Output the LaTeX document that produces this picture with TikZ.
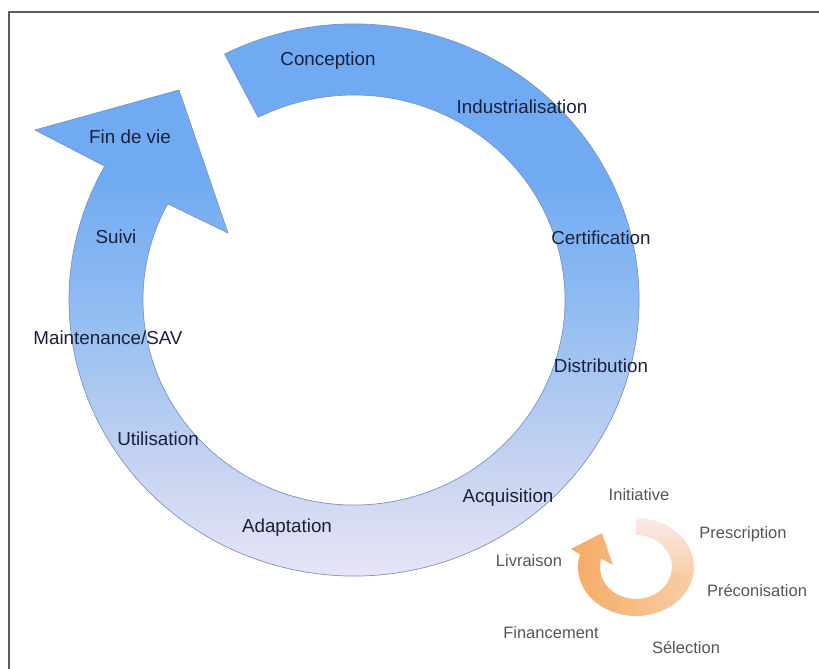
\documentclass[tikz,border=0pt]{standalone}
\usepackage{fontspec}
\setmainfont{Liberation Sans}
\usetikzlibrary{calc}

\definecolor{framegray}{RGB}{92,92,92}
\definecolor{ringtop}{RGB}{112,170,242}
\definecolor{ringmid}{RGB}{142,187,242}
\definecolor{ringlow}{RGB}{198,211,241}
\definecolor{ringbot}{RGB}{243,235,247}
\definecolor{ringline}{RGB}{122,146,200}
\definecolor{opale}{RGB}{250,234,234}
\definecolor{omid}{RGB}{249,206,166}
\definecolor{odeep}{RGB}{245,170,100}
\definecolor{labelnavy}{RGB}{26,32,60}
\definecolor{labelgray}{RGB}{85,85,85}

% Fade of the big ring, blue at the top and pale at the bottom
\pgfdeclareverticalshading{ringfade}{100bp}{color(0bp)=(ringbot); color(25bp)=(ringbot);
  color(37bp)=(ringlow); color(50bp)=(ringmid); color(60bp)=(ringtop); color(100bp)=(ringtop)}

\begin{document}
\begin{tikzpicture}[x=1pt, y=1pt, line cap=round, line join=round,
  bigtxt/.style={anchor=base, inner sep=0pt, text=labelnavy, font=\fontsize{18.8}{22}\selectfont},
  smalltxt/.style={anchor=base, inner sep=0pt, text=labelgray, font=\fontsize{16.5}{19}\selectfont}]

% Page size
\useasboundingbox (0,0) rectangle (819,669);

% Frame (only top and left edges are shown)
\coordinate (FB) at (9,0);
\coordinate (FC) at (9,657);
\coordinate (FR) at (819,657);
\draw[framegray, line width=2pt, line cap=butt, line join=miter] (FB) -- (FC) -- (FR);

% Define Center of the big ring
\coordinate (O) at (354,369);

% Points of the big arrow head
\coordinate (HL) at (35,539);
\coordinate (HT) at (179,579);
\coordinate (HR) at (228,436);

% Big ring, from Conception round to Fin de vie
\shade[shading=ringfade, draw=ringline, line width=0.7pt]
  ($(O)+(117:285 and 276)$) arc[start angle=117, end angle=-209, x radius=285, y radius=276]
  -- (HL) -- (HT) -- (HR)
  -- ($(O)+(-208:211 and 205)$) arc[start angle=-208, end angle=117, x radius=211, y radius=205]
  -- cycle;

% Define Center of the small ring
\coordinate (S) at (636,102);

% Points of the small arrow head
\coordinate (sL) at (571,120);
\coordinate (sT) at (602,136);
\coordinate (sR) at (613,104);

% Small ring, second part (orange) from the right side round to Livraison
\shade[left color=odeep, right color=omid]
  ($(S)+(-6:58 and 49)$) arc[start angle=-6, end angle=-195, x radius=58, y radius=49]
  -- (sL) -- (sT) -- (sR)
  -- ($(S)+(-195:36 and 32)$) arc[start angle=-195, end angle=-6, x radius=36, y radius=32]
  -- cycle;

% Small ring, first part (pale) from Initiative
\shade[top color=opale, bottom color=omid]
  ($(S)+(90:58 and 49)$) arc[start angle=90, end angle=-10, x radius=58, y radius=49]
  -- ($(S)+(-10:36 and 32)$) arc[start angle=-10, end angle=90, x radius=36, y radius=32]
  -- cycle;

% Labels of the big ring
\node[bigtxt] (concep) at (328,603) {Conception};
\node[bigtxt] (indus) at (522,555) {Industrialisation};
\node[bigtxt] (certif) at (601,424) {Certification};
\node[bigtxt] (distri) at (601,296) {Distribution};
\node[bigtxt] (acqui) at (508,166) {Acquisition};
\node[bigtxt] (adapt) at (287,136) {Adaptation};
\node[bigtxt] (utili) at (158,223) {Utilisation};
\node[bigtxt] (maint) at (108,324) {Maintenance/SAV};
\node[bigtxt] (suivi) at (116,425) {Suivi};
\node[bigtxt] (finvie) at (130,525) {Fin de vie};

% Labels of the small ring
\node[smalltxt] (initi) at (639,168) {Initiative};
\node[smalltxt] (presc) at (743,130) {Prescription};
\node[smalltxt] (preco) at (757,72) {Préconisation};
\node[smalltxt] (selec) at (686,15) {Sélection};
\node[smalltxt] (finan) at (551,30) {Financement};
\node[smalltxt] (livra) at (529,102) {Livraison};

\end{tikzpicture}
\end{document}
